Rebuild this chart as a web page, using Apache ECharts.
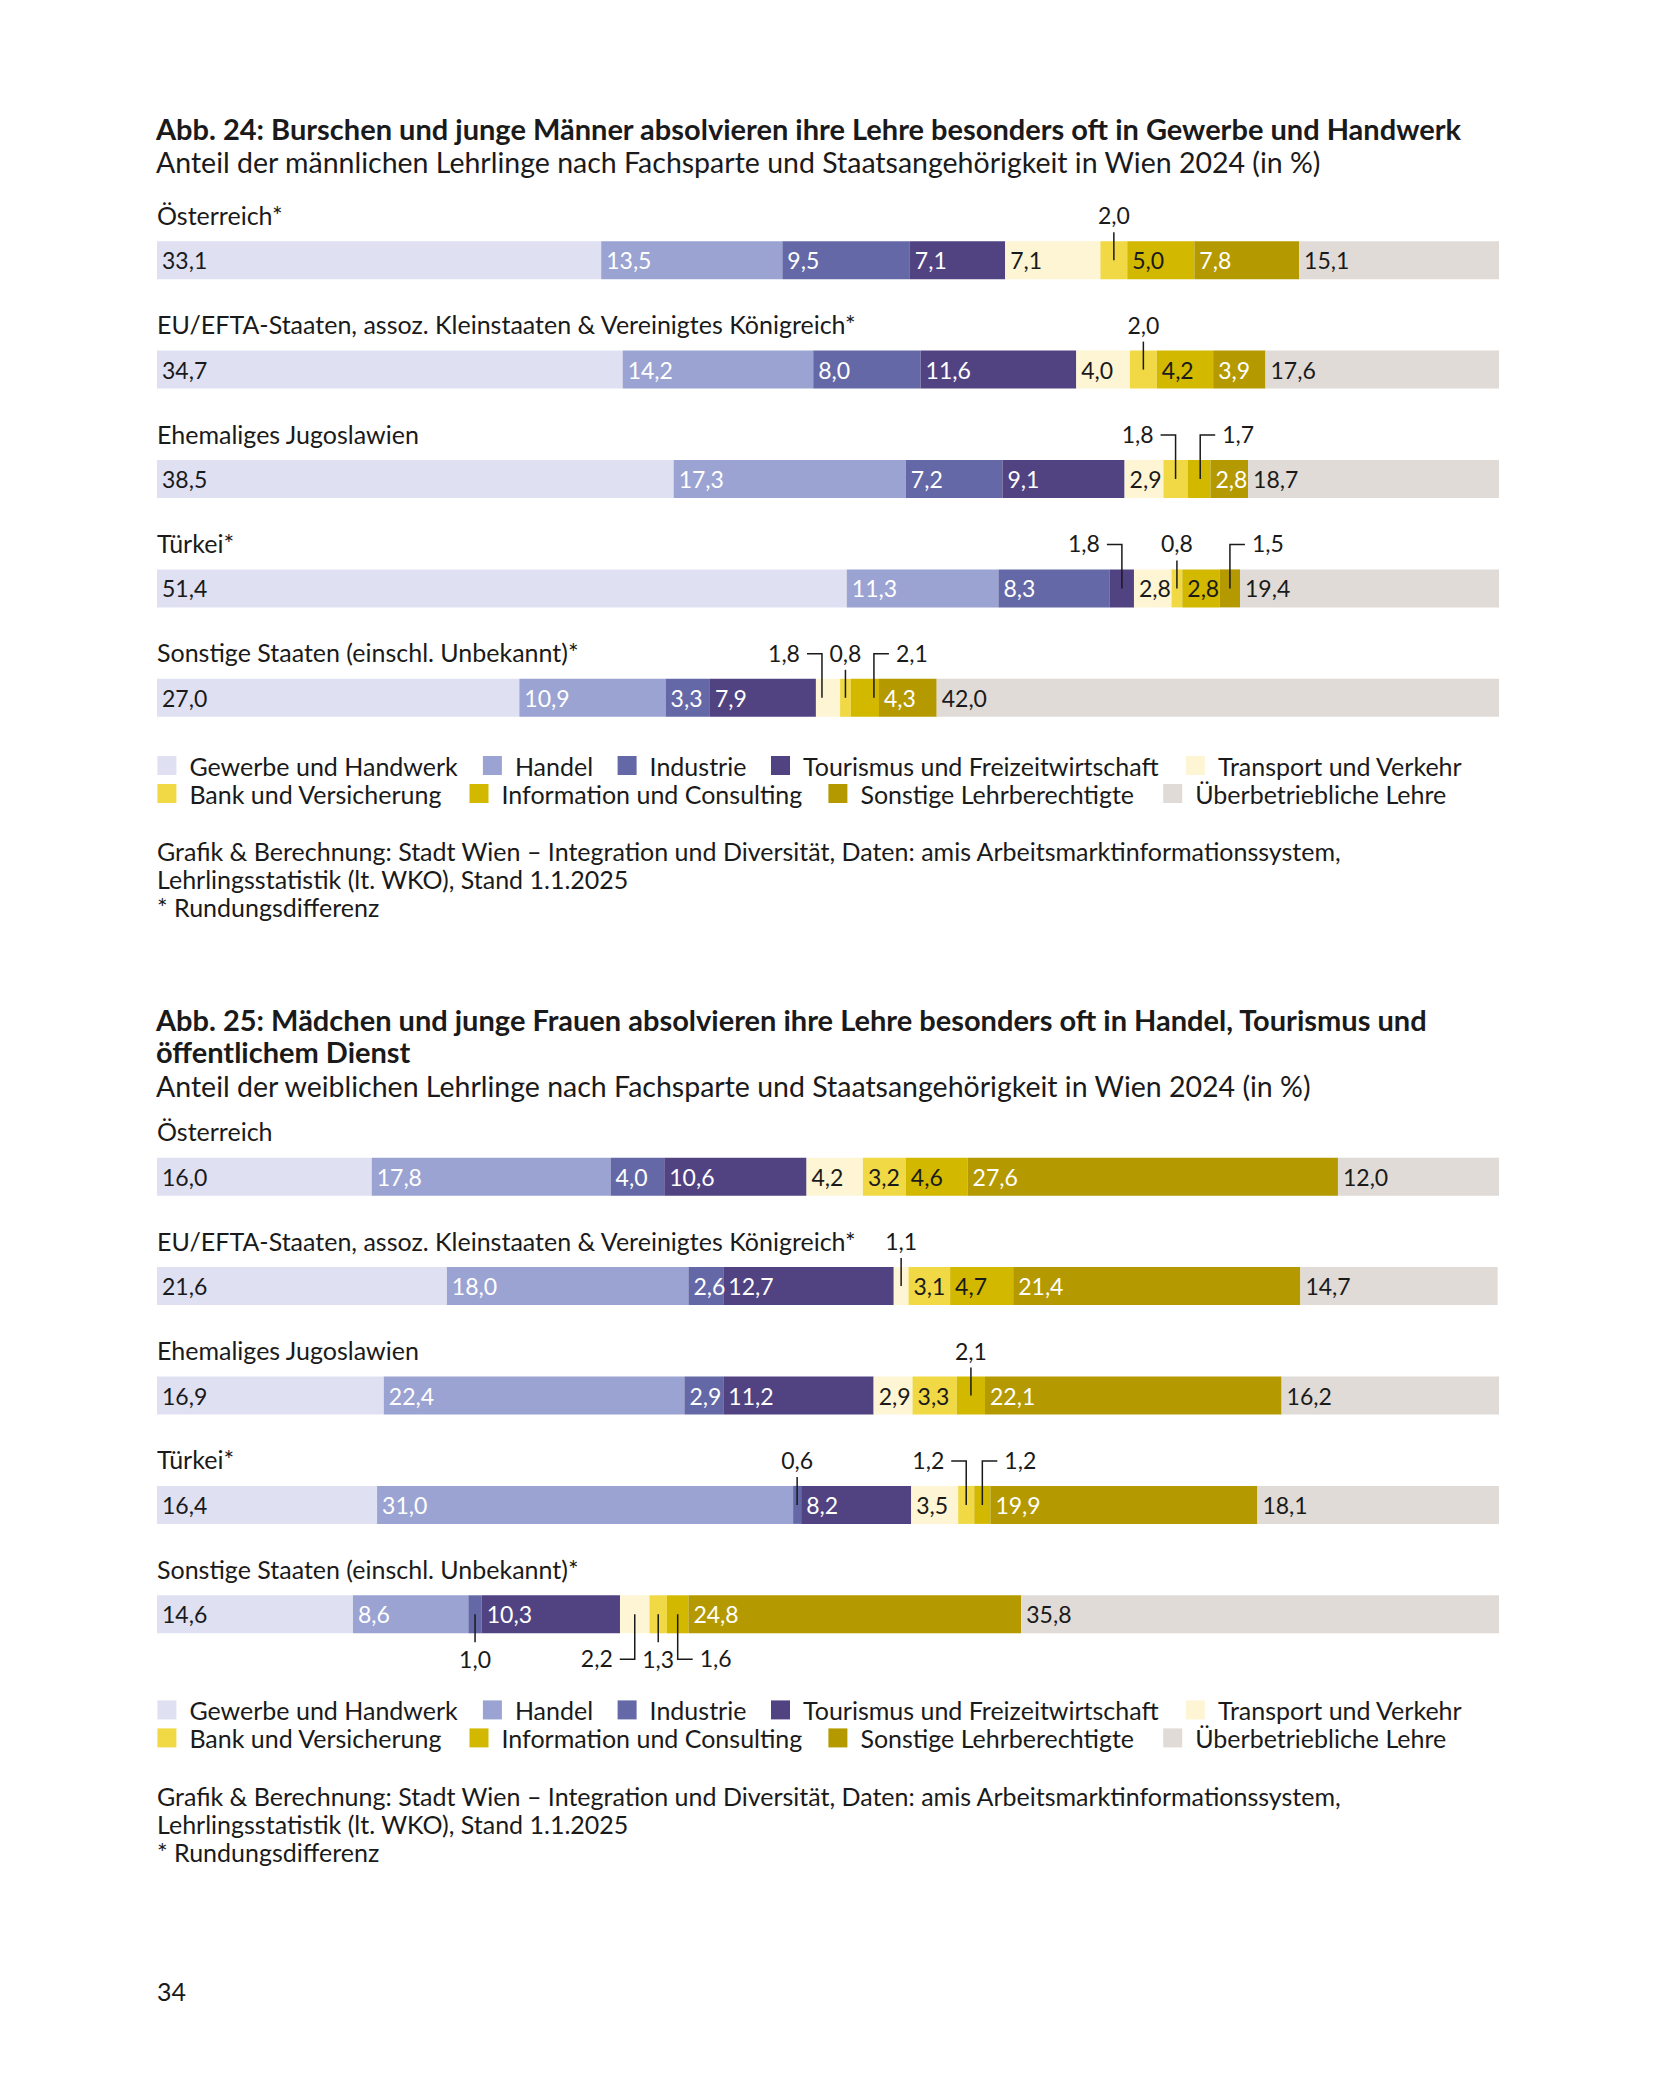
<!DOCTYPE html>
<html>
<head>
<meta charset="utf-8">
<script src="https://cdn.jsdelivr.net/npm/echarts@6/dist/echarts.min.js"></script>
<style>html,body{margin:0;padding:0;background:#fff}#c{width:1654px;height:2087px}</style>
</head>
<body>
<div id="c"></div>
<script>
// ---------- DATA ----------
const sectors = ['Gewerbe und Handwerk','Handel','Industrie','Tourismus und Freizeitwirtschaft','Transport und Verkehr','Bank und Versicherung','Information und Consulting','Sonstige Lehrberechtigte','Überbetriebliche Lehre'];
const rowsMale = ['Österreich*','EU/EFTA-Staaten, assoz. Kleinstaaten & Vereinigtes Königreich*','Ehemaliges Jugoslawien','Türkei*','Sonstige Staaten (einschl. Unbekannt)*'];
const rowsFemale = ['Österreich','EU/EFTA-Staaten, assoz. Kleinstaaten & Vereinigtes Königreich*','Ehemaliges Jugoslawien','Türkei*','Sonstige Staaten (einschl. Unbekannt)*'];

// male apprentices, values in order of sectors
const maleAT   = [33.1,13.5,9.5,7.1,7.1,2.0,5.0,7.8,15.1];
const maleEU   = [34.7,14.2,8.0,11.6,4.0,2.0,4.2,3.9,17.6];
const maleYU   = [38.5,17.3,7.2,9.1,2.9,1.8,1.7,2.8,18.7];
const maleTR   = [51.4,11.3,8.3,1.8,2.8,0.8,2.8,1.5,19.4];
const maleOth  = [27.0,10.9,3.3,7.9,1.8,0.8,2.1,4.3,42.0];
// female apprentices
const femAT    = [16.0,17.8,4.0,10.6,4.2,3.2,4.6,27.6,12.0];
const femEU    = [21.6,18.0,2.6,12.7,1.1,3.1,4.7,21.4,14.7];
const femYU    = [16.9,22.4,2.9,11.2,2.9,3.3,2.1,22.1,16.2];
const femTR    = [16.4,31.0,0.6,8.2,3.5,1.2,1.2,19.9,18.1];
const femOth   = [14.6,8.6,1.0,10.3,2.2,1.3,1.6,24.8,35.8];

// callouts: [row, sector, placement, leader position within segment]
const calloutsMale = [[0,5,'up',0.5],[1,5,'up',0.5],[2,5,'upLeft',0.5],[2,6,'upRight',0.55],[3,3,'upLeft',0.5],[3,5,'up',0.5],[3,7,'upRight',0.5],[4,4,'upLeft',0.25],[4,5,'up',0.5],[4,6,'upRight',0.82]];
const calloutsFemale = [[1,4,'up',0.5],[2,6,'up',0.5],[3,2,'up',0.5],[3,5,'upLeft',0.5],[3,6,'upRight',0.5],[4,2,'down',0.5],[4,4,'downLeft',0.5],[4,5,'down',0.5],[4,6,'downRight',0.5]];

// ---------- STYLE ----------
const colors = ['#dfe1f2','#9ba3d2','#6468a6','#514382','#fdf5d3','#f0d945','#d3b800','#b49a00','#e0dbd7'];
const labelColors = ['#1a1a1a','#ffffff','#ffffff','#ffffff','#1a1a1a','#1a1a1a','#1a1a1a','#ffffff','#1a1a1a'];
const FONT = 'Lato';
const FS = 23;      // numbers
const FT = 25;      // text
const INK = '#1a1a1a';
const fmt = v => v.toFixed(1).replace('.', ',');

const charts = [
  {rows: rowsMale, data: [maleAT, maleEU, maleYU, maleTR, maleOth], callouts: calloutsMale, top: 205.5, legendY: [763, 791]},
  {rows: rowsFemale, data: [femAT, femEU, femYU, femTR, femOth], callouts: calloutsFemale, top: 1122, legendY: [1707.4, 1735.4]}
];
const BAND = 109.4;

const grids = [], xAxes = [], yAxes = [], series = [], legends = [];
const legendX = [[157.4,482.9,617.6,771,1185.9],[157.4,469.5,828.4,1163.2]];

charts.forEach((c, ci) => {
  grids.push({left: 157, right: 155, top: c.top, height: BAND * 5, containLabel: false, outerBoundsMode: 'none'});
  xAxes.push({type: 'value', gridIndex: ci, min: 0, max: 100, show: false});
  yAxes.push({
    type: 'category', gridIndex: ci, data: c.rows, inverse: true,
    axisLine: {show: false}, axisTick: {show: false}, splitLine: {show: false},
    axisLabel: {inside: true, interval: 0, margin: 0, align: 'left', verticalAlign: 'bottom',
      lineHeight: 26, padding: [0, 0, 32.5, 0], color: INK, fontSize: FT, fontFamily: FONT}
  });
  const isCallout = (r, s) => c.callouts.some(k => k[0] === r && k[1] === s);
  sectors.forEach((name, s) => {
    series.push({
      type: 'bar', name, stack: 'st' + ci, xAxisIndex: ci, yAxisIndex: ci,
      barWidth: 38, clip: true, itemStyle: {color: colors[s]},
      emphasis: {disabled: true},
      label: {show: true, position: 'insideLeft', distance: 5, color: labelColors[s],
        fontSize: FS, fontFamily: FONT, formatter: p => fmt(p.value)},
      data: c.data.map((row, r) => ({value: row[s], label: {show: !isCallout(r, s)}}))
    });
  });
  // callout custom series (leader lines + small-value labels)
  const kinds = c.callouts.map(k => k[2]);
  series.push({
    type: 'custom', xAxisIndex: ci, yAxisIndex: ci, z: 10, silent: true,
    encode: {x: 0, y: 1},
    data: c.callouts.map(k => {
      const row = c.data[k[0]];
      let start = 0; for (let i = 0; i < k[1]; i++) start += row[i];
      return [start + row[k[1]] * k[3], k[0], row[k[1]]];
    }),
    renderItem: (params, api) => {
      const kind = kinds[params.dataIndex];
      const p = api.coord([api.value(0), api.value(1)]);
      const xc = p[0], yc = p[1];
      const dir = kind.indexOf('up') === 0 ? -1 : 1;
      const txt = fmt(api.value(2));
      const ls = {stroke: INK, lineWidth: 1.5, fill: null};
      const ch = [];
      if (kind === 'up' || kind === 'down') {
        ch.push({type: 'line', shape: {x1: xc, y1: yc + dir * 28, x2: xc, y2: yc}, style: ls});
        ch.push({type: 'text', x: xc, y: yc + dir * 45, style: {text: txt, fill: INK, fontSize: FS, fontFamily: FONT, align: 'center', verticalAlign: 'middle'}});
      } else {
        const left = /Left$/.test(kind);
        const ty = yc + dir * (dir < 0 ? 45 : 44);
        const hy = ty + 1;
        const hx = xc + (left ? -15 : 15);
        ch.push({type: 'polyline', shape: {points: [[xc, yc], [xc, hy], [hx, hy]]}, style: ls});
        ch.push({type: 'text', x: hx + (left ? -7 : 7), y: ty, style: {text: txt, fill: INK, fontSize: FS, fontFamily: FONT, align: left ? 'right' : 'left', verticalAlign: 'middle'}});
      }
      return {type: 'group', children: ch};
    }
  });
  // legends, one component per item
  sectors.forEach((name, s) => {
    const r = s < 5 ? 0 : 1;
    const x = legendX[r][s < 5 ? s : s - 5];
    legends.push({
      data: [name], left: x, top: c.legendY[r] - 10, padding: 0, selectedMode: false,
      icon: 'rect', itemWidth: 19, itemHeight: 19,
      textStyle: {color: INK, fontSize: FT, fontFamily: FONT, lineHeight: 20, padding: [0, 0, 0, 8]}
    });
  });
});

const T = (text, x, y, opts) => ({type: 'text', x, y, silent: true,
  style: Object.assign({text, fill: INK, fontSize: FT, fontFamily: FONT, verticalAlign: 'middle', align: 'left'}, opts || {})});

const graphics = [
  T('Abb. 24: Burschen und junge Männer absolvieren ihre Lehre besonders oft in Gewerbe und Handwerk', 156, 128.5, {fontSize: 29, fontWeight: 'bold'}),
  T('Anteil der männlichen Lehrlinge nach Fachsparte und Staatsangehörigkeit in Wien 2024 (in %)', 156, 161.5, {fontSize: 28.5}),
  T('Grafik & Berechnung: Stadt Wien – Integration und Diversität, Daten: amis Arbeitsmarktinformationssystem,', 157, 851),
  T('Lehrlingsstatistik (lt. WKO), Stand 1.1.2025', 157, 879),
  T('* Rundungsdifferenz', 157, 907),
  T('Abb. 25: Mädchen und junge Frauen absolvieren ihre Lehre besonders oft in Handel, Tourismus und', 156, 1019.5, {fontSize: 29, fontWeight: 'bold'}),
  T('öffentlichem Dienst', 156, 1051.5, {fontSize: 29, fontWeight: 'bold'}),
  T('Anteil der weiblichen Lehrlinge nach Fachsparte und Staatsangehörigkeit in Wien 2024 (in %)', 156, 1086, {fontSize: 28.5}),
  T('Grafik & Berechnung: Stadt Wien – Integration und Diversität, Daten: amis Arbeitsmarktinformationssystem,', 157, 1795.5),
  T('Lehrlingsstatistik (lt. WKO), Stand 1.1.2025', 157, 1823.5),
  T('* Rundungsdifferenz', 157, 1851.5),
  T('34', 157, 1991)
];

const chart = echarts.init(document.getElementById('c'), null, {renderer: 'svg'});
chart.setOption({
  animation: false,
  backgroundColor: '#ffffff',
  textStyle: {fontFamily: FONT},
  grid: grids, xAxis: xAxes, yAxis: yAxes, series, legend: legends,
  graphic: graphics
});
</script>
</body>
</html>
